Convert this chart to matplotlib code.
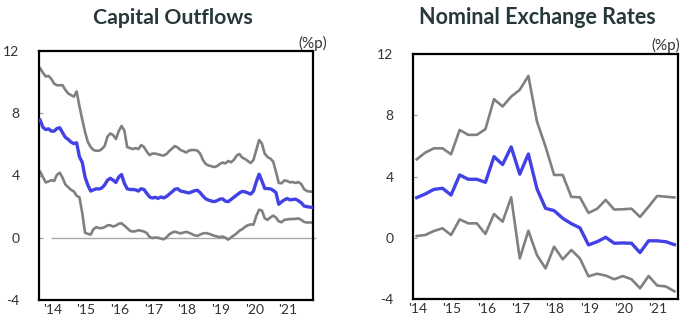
import matplotlib
matplotlib.use("Agg")
import matplotlib.pyplot as plt

plt.rcParams["font.family"] = ["Lato", "DejaVu Sans"]
plt.rcParams["axes.unicode_minus"] = False

# ---- left panel: monthly, index 0 = first observation ----
cap_upper = [10.89, 10.6, 10.36, 10.4, 10.2, 9.9, 9.8, 9.8, 9.8, 9.5,
             9.27, 9.17, 9.06, 9.4, 8.45, 7.6, 6.8, 6.15, 5.83, 5.64,
             5.59, 5.59, 5.7, 5.9, 6.5, 6.7, 6.6, 6.34, 6.85, 7.18,
             6.9, 5.83, 5.76, 5.7, 5.76, 5.7, 5.96, 5.83, 5.53, 5.31,
             5.41, 5.41, 5.36, 5.31, 5.28, 5.38, 5.57, 5.73, 5.89, 5.8,
             5.64, 5.57, 5.48, 5.6, 5.64, 5.64, 5.6, 5.41, 5.0, 4.74,
             4.64, 4.6, 4.54, 4.6, 4.74, 4.83, 4.78, 4.93, 4.85, 5.0,
             5.28, 5.38, 5.15, 5.06, 4.93, 4.8, 5.0, 5.64, 6.28, 6.05,
             5.41, 5.19, 5.09, 4.9, 4.24, 3.52, 3.5, 3.68, 3.65, 3.56,
             3.58, 3.52, 3.58, 3.45, 3.13, 3.0, 2.97, 2.96]
cap_mid = [7.56, 7.1, 6.95, 7.0, 6.85, 6.85, 7.02, 7.07, 6.75, 6.45,
           6.32, 6.15, 6.05, 6.1, 5.2, 4.85, 3.9, 3.38, 3.0, 3.08,
           3.15, 3.13, 3.2, 3.4, 3.7, 3.82, 3.7, 3.55, 3.9, 4.06,
           3.5, 3.15, 3.1, 3.1, 3.08, 3.0, 3.15, 3.1, 2.85, 2.62,
           2.55, 2.6, 2.53, 2.62, 2.56, 2.65, 2.8, 2.95, 3.12, 3.15,
           3.0, 2.97, 2.92, 2.88, 2.95, 3.02, 3.05, 2.9, 2.68, 2.5,
           2.42, 2.36, 2.32, 2.38, 2.48, 2.5, 2.35, 2.32, 2.46, 2.6,
           2.74, 2.88, 2.98, 2.95, 2.88, 2.8, 3.0, 3.6, 4.08, 3.65,
           3.17, 3.16, 3.14, 3.05, 2.9, 2.15, 2.31, 2.43, 2.52, 2.43,
           2.46, 2.48, 2.38, 2.25, 2.04, 2.0, 1.97, 1.95]
cap_lower = [4.24, 3.9, 3.55, 3.62, 3.7, 3.65, 4.05, 4.18, 3.85, 3.42,
             3.25, 3.08, 2.98, 2.7, 2.6, 1.6, 0.32, 0.25, 0.2, 0.55,
             0.68, 0.62, 0.62, 0.68, 0.8, 0.8, 0.72, 0.78, 0.9, 0.93,
             0.78, 0.62, 0.45, 0.4, 0.42, 0.48, 0.45, 0.4, 0.3, 0.05,
             -0.02, 0.02, 0.0, -0.05, -0.1, 0.02, 0.22, 0.33, 0.39, 0.33,
             0.28, 0.33, 0.38, 0.32, 0.24, 0.16, 0.12, 0.2, 0.28, 0.3,
             0.26, 0.2, 0.13, 0.08, 0.04, 0.08, 0.0, -0.12, 0.02, 0.15,
             0.28, 0.45, 0.55, 0.7, 0.8, 0.86, 0.84, 1.4, 1.8, 1.75,
             1.25, 1.15, 1.3, 1.42, 1.3, 1.05, 1.0, 1.15, 1.18, 1.2,
             1.2, 1.22, 1.24, 1.15, 1.02, 0.98, 0.98, 0.98]

# ---- right panel: quarterly ----
fx_upper = [5.12, 5.56, 5.84, 5.84, 5.45, 7.04, 6.72, 6.72, 7.09, 9.05,
            8.57, 9.22, 9.66, 10.57, 7.59, 5.95, 4.1, 4.1, 2.67, 2.64,
            1.62, 1.89, 2.47, 1.84, 1.86, 1.9, 1.36, 2.03, 2.73, 2.68, 2.63]
fx_mid = [2.62, 2.86, 3.16, 3.23, 2.79, 4.1, 3.82, 3.82, 3.62, 5.3,
          4.78, 5.93, 4.15, 5.47, 3.2, 1.92, 1.77, 1.27, 0.92, 0.65,
          -0.47, -0.26, 0.03, -0.36, -0.34, -0.36, -0.97, -0.2, -0.2, -0.26, -0.45]
fx_lower = [0.11, 0.18, 0.44, 0.62, 0.18, 1.2, 0.94, 0.94, 0.25, 1.55,
            1.05, 2.64, -1.35, 0.46, -1.13, -2.0, -0.58, -1.41, -0.8, -1.35,
            -2.52, -2.35, -2.47, -2.71, -2.5, -2.71, -3.3, -2.5, -3.12, -3.18, -3.5]

year_labels = ["'14", "'15", "'16", "'17", "'18", "'19", "'20", "'21"]
y_ticks = [-4, 0, 4, 8, 12]

W, H = 681, 319
BLUE = "#4141e6"
GREY = "#808080"
TITLE_C = "#27383a"


def px(x, y):
    return x / W, 1 - y / H


def style_axes(ax):
    for s in ax.spines.values():
        s.set_linewidth(1.6)
        s.set_color("black")
    ax.set_ylim(-4, 12)
    ax.set_yticks(y_ticks)
    ax.tick_params(axis="y", direction="in", length=3, width=0.8, color="#999999",
                   labelsize=10, labelcolor="#333333", pad=14)
    ax.tick_params(axis="x", length=0, labelsize=10, labelcolor="#333333", pad=3)


fig = plt.figure(figsize=(W / 100, H / 100), dpi=100)

# left: Capital Outflows
ax1 = fig.add_axes([39 / W, 19 / H, 274 / W, 249 / H])
m = list(range(len(cap_mid)))
ax1.hlines(0, 3.9, 98.2, color="#aaaaaa", lw=1.0, clip_on=False, zorder=1)
ax1.plot(m, cap_upper, color=GREY, lw=1.9, zorder=2)
ax1.plot(m, cap_lower, color=GREY, lw=1.9, zorder=2)
ax1.plot(m, cap_mid, color=BLUE, lw=2.4, zorder=3)
ax1.set_xlim(-0.4, 97.2)
ax1.set_xticks([4.3 + 12 * k for k in range(len(year_labels))])
ax1.set_xticklabels(year_labels)
style_axes(ax1)

# right: Nominal Exchange Rates
ax2 = fig.add_axes([413 / W, 20 / H, 265 / W, 245 / H])
q = list(range(len(fx_mid)))
ax2.plot(q, fx_upper, color=GREY, lw=1.9, zorder=2)
ax2.plot(q, fx_lower, color=GREY, lw=1.9, zorder=2)
ax2.plot(q, fx_mid, color=BLUE, lw=2.4, zorder=3)
ax2.set_xlim(-0.43, 30.42)
ax2.set_xticks([4 * k + 0.1 for k in range(len(year_labels))])
ax2.set_xticklabels(year_labels)
style_axes(ax2)

fig.text(*px(173, 23.5), "Capital Outflows", ha="center", va="baseline",
         fontsize=15.3, fontweight="bold", color=TITLE_C)
fig.text(*px(537.5, 24.5), "Nominal Exchange Rates", ha="center", va="baseline",
         fontsize=15.5, fontweight="bold", color=TITLE_C)
fig.text(*px(327, 43.5), "(%p)", ha="right", va="center", fontsize=11, color="#333333")
fig.text(*px(680, 45), "(%p)", ha="right", va="center", fontsize=11, color="#333333")

fig.savefig("out.png", dpi=100)
